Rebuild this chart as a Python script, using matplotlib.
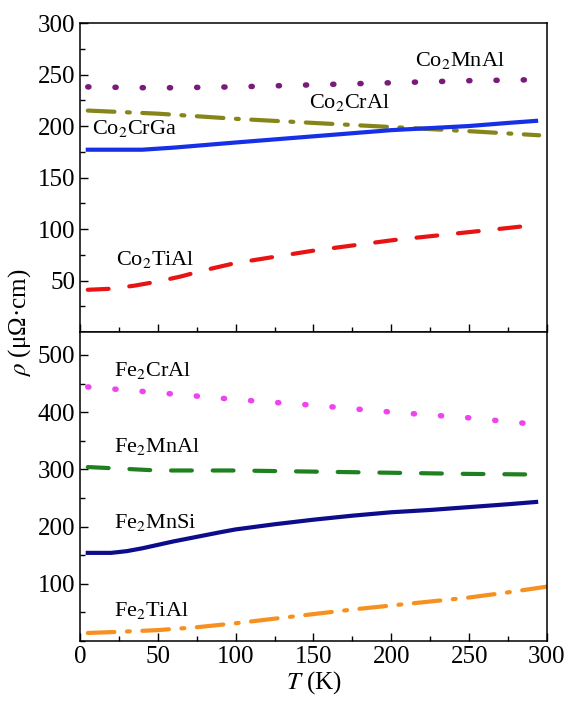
import matplotlib
matplotlib.use('Agg')
import matplotlib.pyplot as plt
from matplotlib.ticker import MultipleLocator

plt.rcParams['font.family'] = 'Liberation Serif'
plt.rcParams['mathtext.fontset'] = 'stix'

# top panel: Co-based alloys
T_co_mnal = [5, 50, 100, 150, 200, 250, 295]
r_co_mnal = [238, 237, 238, 240, 242, 244, 245]
T_co_cral = [5, 50, 100, 150, 200, 250, 295]
r_co_cral = [215, 212, 207, 203, 199, 195, 191]
T_co_crga = [5, 20, 40, 60, 80, 100, 125, 150, 175, 200, 225, 250, 275, 293]
r_co_crga = [177, 177, 177, 179, 181.5, 184, 187, 190, 193, 196, 198, 200, 203, 205]
T_co_tial = [5, 20, 35, 50, 65, 80, 100, 125, 150, 175, 200, 225, 250, 275, 293]
r_co_tial = [41, 42, 45, 49, 54, 60, 67, 73, 79, 84, 89, 93, 97, 101, 104]

# bottom panel: Fe-based alloys
T_fe_cral = [5, 50, 100, 150, 200, 250, 295]
r_fe_cral = [444, 434, 422, 412, 400, 390, 378]
T_fe_mnal = [5, 50, 100, 150, 200, 250, 292]
r_fe_mnal = [304, 298, 298, 296, 294, 292, 291]
T_fe_mnsi = [5, 20, 30, 40, 50, 60, 75, 90, 100, 125, 150, 175, 200, 225, 250, 275, 293]
r_fe_mnsi = [154, 154, 157, 162, 168, 174, 182, 190, 195, 204, 212, 219, 225, 229, 234, 239, 243]
T_fe_tial = [5, 25, 50, 75, 100, 125, 150, 175, 200, 225, 250, 275, 300]
r_fe_tial = [14, 16, 19, 24, 31, 39, 47, 55, 62, 69, 76, 85, 95]

dotted = (0, (0.2, 4.7))
dashed = (0, (5, 5))
dashdot = (0, (6.4, 3, 0.7, 3))

fig = plt.figure(figsize=(5.69, 7.04), dpi=100)
ax1 = fig.add_axes([0.1406, 0.5284, 0.8207, 0.4389])
ax2 = fig.add_axes([0.1406, 0.0895, 0.8207, 0.4389])

lw = 3
lwd = 4
ax1.plot(T_co_mnal, r_co_mnal, color='#7a1a7a', lw=lwd, ls=dotted, dash_capstyle='round')
ax1.plot(T_co_cral, r_co_cral, color='#85851a', lw=lw, ls=dashdot, dash_capstyle='round')
ax1.plot(T_co_crga, r_co_crga, color='#1530e6', lw=lw)
ax1.plot(T_co_tial, r_co_tial, color='#e81414', lw=lw, ls=dashed, dash_capstyle='round')

ax2.plot(T_fe_cral, r_fe_cral, color='#ee44ee', lw=lwd, ls=dotted, dash_capstyle='round')
ax2.plot(T_fe_mnal, r_fe_mnal, color='#1e801e', lw=lw, ls=dashed, dash_capstyle='round')
ax2.plot(T_fe_mnsi, r_fe_mnsi, color='#0c0c8c', lw=lw)
ax2.plot(T_fe_tial, r_fe_tial, color='#f7901e', lw=lw, ls=dashdot, dash_capstyle='round')

fs = 16
ax1.text(215, 264, r'Co$_2$MnAl', fontsize=fs, va='center')
ax1.text(147, 223, r'Co$_2$CrAl', fontsize=fs, va='center')
ax1.text(8, 198, r'Co$_2$CrGa', fontsize=fs, va='center')
ax1.text(23, 70, r'Co$_2$TiAl', fontsize=fs, va='center')
ax2.text(22, 472, r'Fe$_2$CrAl', fontsize=fs, va='center')
ax2.text(22, 340, r'Fe$_2$MnAl', fontsize=fs, va='center')
ax2.text(22, 207, r'Fe$_2$MnSi', fontsize=fs, va='center')
ax2.text(22, 54, r'Fe$_2$TiAl', fontsize=fs, va='center')

for ax in (ax1, ax2):
    ax.set_xlim(0, 300)
    ax.xaxis.set_major_locator(MultipleLocator(50))
    ax.xaxis.set_minor_locator(MultipleLocator(25))
    ax.tick_params(which='both', direction='in', top=False, right=False, labelsize=18)
    ax.tick_params(which='major', length=6, width=1)
    ax.tick_params(which='minor', length=3.5, width=1)
    for s in ax.spines.values():
        s.set_linewidth(1.1)

ax1.set_ylim(0, 300)
ax1.set_yticks([50, 100, 150, 200, 250, 300])
ax1.yaxis.set_minor_locator(MultipleLocator(25))
ax1.tick_params(labelbottom=False)

ax2.set_ylim(0, 540)
ax2.set_yticks([100, 200, 300, 400, 500])
ax2.yaxis.set_minor_locator(MultipleLocator(50))
ax2.set_xlabel(r'$T$ (K)', fontsize=18, labelpad=1)

fig.text(0.035, 0.542, r'$\rho$ (μΩ·cm)', rotation=90, fontsize=18, va='center', ha='center')

fig.savefig('out.png', dpi=100)
